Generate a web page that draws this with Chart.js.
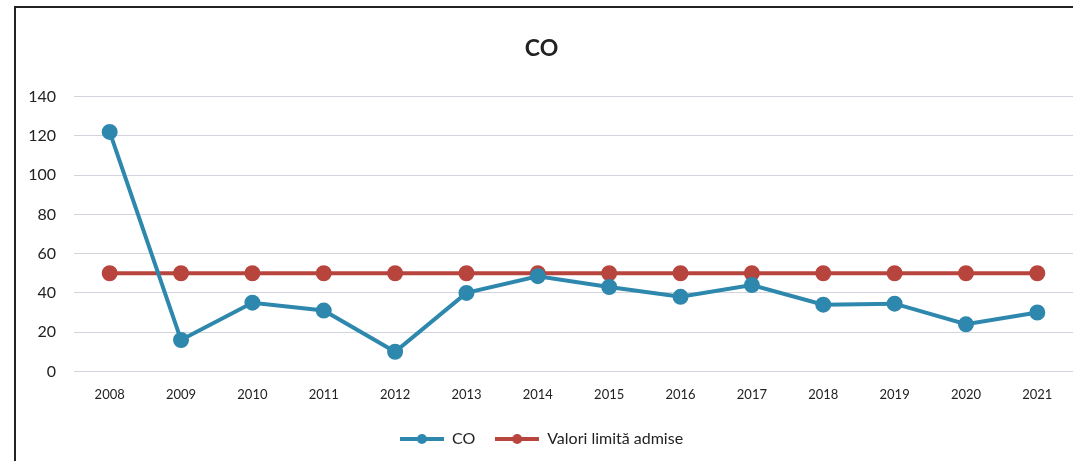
<!DOCTYPE html>
<html>
<head>
<meta charset="utf-8">
<script src="https://cdn.jsdelivr.net/npm/chart.js@4/dist/chart.umd.min.js"></script>
<style>
body{margin:0;background:#fff;}
#wrap{position:relative;width:1073px;height:461px;overflow:hidden;}
#frame{position:absolute;left:14px;top:6px;width:1070px;height:470px;border-top:2px solid #222;border-left:2px solid #222;}
canvas{position:absolute;left:0;top:0;}
</style>
</head>
<body>
<div id="wrap">
<div id="frame"></div>
<canvas id="GraphCO" width="1083" height="461"></canvas>
</div>
<script>
var years = ['2008','2009','2010','2011','2012','2013','2014','2015','2016','2017','2018','2019','2020','2021'];
var coValues = [122, 16, 35, 31, 10, 40, 48.5, 43, 38, 44, 34, 34.5, 24, 30];
var limitValues = [50, 50, 50, 50, 50, 50, 50, 50, 50, 50, 50, 50, 50, 50];

var blue = '#2e88ae';
var red = '#b7453d';

// legend marker: line with a dot in the middle, like excel
function legendIcon(color){
    var c = document.createElement('canvas');
    c.width = 44; c.height = 14;
    var ctx = c.getContext('2d');
    ctx.strokeStyle = color;
    ctx.lineWidth = 4;
    ctx.beginPath();
    ctx.moveTo(0, 7);
    ctx.lineTo(44, 7);
    ctx.stroke();
    ctx.fillStyle = color;
    ctx.beginPath();
    ctx.arc(22, 7, 5, 0, Math.PI*2);
    ctx.fill();
    return c;
}

var font = "Lato, 'Open Sans', sans-serif";
Chart.defaults.font.family = font;
Chart.defaults.color = '#222';

var chartCO = new Chart(document.getElementById('GraphCO'), {
    type: 'line',
    data: {
        labels: years,
        datasets: [
            {
                label: 'CO',
                data: coValues,
                borderColor: blue,
                backgroundColor: blue,
                borderWidth: 4,
                pointRadius: 6,
                pointHoverRadius: 6,
                pointStyle: 'circle',
                tension: 0
            },
            {
                label: 'Valori limită admise',
                data: limitValues,
                borderColor: red,
                backgroundColor: red,
                borderWidth: 4,
                pointRadius: 6,
                pointHoverRadius: 6,
                tension: 0
            }
        ]
    },
    options: {
        responsive: false,
        animation: false,
        layout: {padding: {left: 0, right: 0, top: 35, bottom: 4}},
        plugins: {
            title: {
                display: true,
                text: 'CO',
                font: {size: 23, weight: 'bold', family: font},
                color: '#222',
                padding: {top: 0, bottom: 34}
            },
            legend: {
                position: 'bottom',
                labels: {
                    usePointStyle: true,
                    pointStyleWidth: 44,
                    generateLabels: function(chart){
                        return chart.data.datasets.map(function(ds, i){
                            return {
                                text: ds.label,
                                pointStyle: legendIcon(ds.borderColor),
                                fillStyle: ds.borderColor,
                                strokeStyle: ds.borderColor,
                                lineWidth: 0,
                                datasetIndex: i,
                                fontColor: '#222'
                            };
                        });
                    },
                    font: {size: 16, family: font},
                    padding: 20,
                    boxHeight: 14
                }
            },
            tooltip: {enabled: false}
        },
        scales: {
            x: {
                offset: true,
                grid: {display: false},
                border: {display: false},
                ticks: {font: {size: 13}, color: '#222', padding: 8}
            },
            y: {
                min: 0,
                max: 140,
                ticks: {stepSize: 20, font: {size: 16}, color: '#222', padding: 18},
                grid: {color: '#d3d3de', lineWidth: 1, drawTicks: false},
                border: {display: false},
                afterFit: function(s){ s.width = 74; }
            }
        }
    }
});
</script>
</body>
</html>
